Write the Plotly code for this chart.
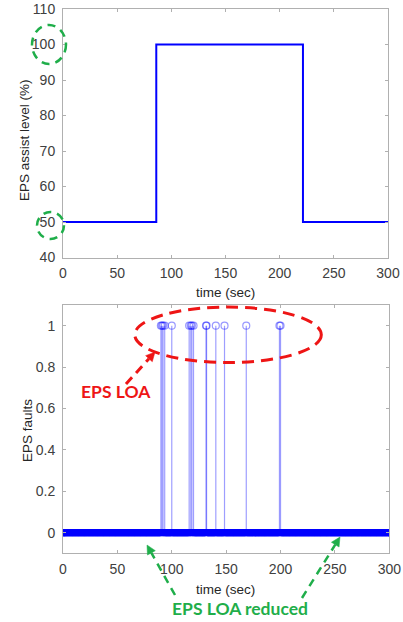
import numpy as np
import plotly.graph_objects as go

# ---------------- data ----------------
# top panel: EPS assist level (step profile)
assist_time = [0, 86.1, 221.5, 300]
assist_level = [50, 100, 50, 50]

# bottom panel: EPS faults (stem plot sampled at 0.5 s)
fault_times = [90, 91, 92, 93.5, 100, 116, 117.5, 118.5, 120,
               131.5, 132, 140.5, 148.5, 168.5, 199, 200]
sample_time = np.arange(0, 300.5, 0.5)
faults = np.zeros(len(sample_time))
for ft in fault_times:
    faults[int(round(ft / 0.5))] = 1.0

x_ticks = [0, 50, 100, 150, 200, 250, 300]
y1_ticks = [40, 50, 60, 70, 80, 90, 100, 110]
y2_ticks = [0, 0.2, 0.4, 0.6, 0.8, 1]
y2_ticklabels = ["0", "0.2", "0.4", "0.6", "0.8", "1"]

W, H = 403, 622
def px(x):
    return x / W
def py(y):
    return 1 - y / H

BLUE = "#0000ff"
RED = "#ee1515"
GREEN = "#1fae4a"
AXC = "#b0b0b0"
TXT = "#404040"
FONT = "Liberation Sans, Arial, sans-serif"

fig = go.Figure()

# top step line
fig.add_trace(go.Scatter(x=assist_time, y=assist_level, mode="lines",
                         line=dict(color=BLUE, width=2, shape="hv"),
                         xaxis="x", yaxis="y", showlegend=False))

# stems
sx, sy = [], []
for t, v in zip(sample_time, faults):
    if v != 0:
        sx += [t, t, None]
        sy += [0, v, None]
fig.add_trace(go.Scatter(x=sx, y=sy, mode="lines",
                         line=dict(color="rgba(0,0,255,0.38)", width=1.2),
                         xaxis="x2", yaxis="y2", showlegend=False))
# markers at zero
mask0 = faults == 0
fig.add_trace(go.Scatter(x=sample_time[mask0], y=faults[mask0], mode="markers",
                         marker=dict(symbol="circle-open", size=6, color=BLUE,
                                     line=dict(color=BLUE, width=1.4)),
                         xaxis="x2", yaxis="y2", showlegend=False))
# markers at one
mask1 = faults != 0
fig.add_trace(go.Scatter(x=sample_time[mask1], y=faults[mask1], mode="markers",
                         marker=dict(symbol="circle-open", size=7, color="rgba(0,0,255,0.4)",
                                     line=dict(color="rgba(0,0,255,0.4)", width=1.2)),
                         xaxis="x2", yaxis="y2", showlegend=False))

axis_common = dict(showline=True, linecolor=AXC, linewidth=1, mirror="ticks",
                   ticks="inside", ticklen=3, tickcolor=AXC, showgrid=False,
                   zeroline=False, automargin=False,
                   tickfont=dict(family=FONT, size=14, color=TXT))

fig.update_layout(
    width=W, height=H, margin=dict(l=0, r=0, t=0, b=0, autoexpand=False),
    paper_bgcolor="white", plot_bgcolor="white",
    xaxis=dict(domain=[px(63), px(388)], range=[0, 300], tickvals=x_ticks,
               anchor="y", ticklabelstandoff=3, **axis_common),
    yaxis=dict(domain=[py(257.5), py(9)], range=[40, 110], tickvals=y1_ticks,
               anchor="x", ticklabelstandoff=4, **axis_common),
    xaxis2=dict(domain=[px(63), px(389.3)], range=[0, 300], tickvals=x_ticks,
                anchor="y2", ticklabelstandoff=3, **axis_common),
    yaxis2=dict(domain=[py(553.3), py(305)], range=[-0.1, 1.1], tickvals=y2_ticks,
                ticktext=y2_ticklabels, anchor="x2", ticklabelstandoff=4, **axis_common),
)

annotations = []
def label(text, x, y, angle=0, size=13.5, color="#262626", bold=False, family=FONT):
    annotations.append(dict(text=f"<b>{text}</b>" if bold else text,
                            x=px(x), y=py(y), xref="paper", yref="paper",
                            showarrow=False, textangle=angle,
                            xanchor="center", yanchor="middle",
                            font=dict(family=family, size=size, color=color)))

label("time (sec)", 225.5, 292.5)
label("EPS assist level (%)", 25, 140, angle=-90)
label("time (sec)", 226, 589)
label("EPS faults", 27, 430, angle=-90)
label("EPS LOA", 116, 391.5, size=17.5, color=RED, bold=True, family="Lato, sans-serif")
label("EPS LOA reduced", 240, 608, size=17.5, color=GREEN, bold=True, family="Lato, sans-serif")
fig.update_layout(annotations=annotations)

shapes = []
# red dashed ellipse around faults
shapes.append(dict(type="circle", xref="x2", yref="y2", x0=66, x1=237.5, y0=0.822, y1=1.09,
                   line=dict(color=RED, width=3, dash="12px,7px"), layer="above"))
# green dashed circles around tick labels
shapes.append(dict(type="circle", xref="paper", yref="paper",
                   x0=px(32), x1=px(66), y0=py(64), y1=py(25),
                   line=dict(color=GREEN, width=2.5, dash="8px,6px")))
shapes.append(dict(type="circle", xref="paper", yref="paper",
                   x0=px(37), x1=px(64), y0=py(239), y1=py(212),
                   line=dict(color=GREEN, width=2.5, dash="8px,6px")))

def arrow(x0, y0, x1, y1, color, width, dash, head=9):
    shapes_local = []
    d = np.array([x1 - x0, y1 - y0], dtype=float)
    L = np.hypot(*d)
    u = d / L
    n = np.array([-u[1], u[0]])
    base = np.array([x1, y1]) - u * head
    shapes_local.append(dict(type="line", xref="paper", yref="paper",
                             x0=px(x0), y0=py(y0), x1=px(base[0]), y1=py(base[1]),
                             line=dict(color=color, width=width, dash=dash)))
    c1 = base + n * head * 0.5
    c2 = base - n * head * 0.5
    path = (f"M {px(x1)} {py(y1)} L {px(c1[0])} {py(c1[1])} "
            f"L {px(c2[0])} {py(c2[1])} Z")
    shapes_local.append(dict(type="path", xref="paper", yref="paper", path=path,
                             fillcolor=color, line=dict(color=color, width=0.5)))
    return shapes_local

shapes += arrow(126, 384, 155, 352, RED, 3, "9px,6px")
shapes += arrow(175, 595, 147, 545, GREEN, 2.5, "8px,6px")
shapes += arrow(302, 598, 340, 537, GREEN, 2.5, "8px,6px")
fig.update_layout(shapes=shapes)

fig.write_html("out.html",
               config={"displayModeBar": False},
               post_script="document.body.style.margin='0';"
                           "document.body.style.overflow='hidden';")
